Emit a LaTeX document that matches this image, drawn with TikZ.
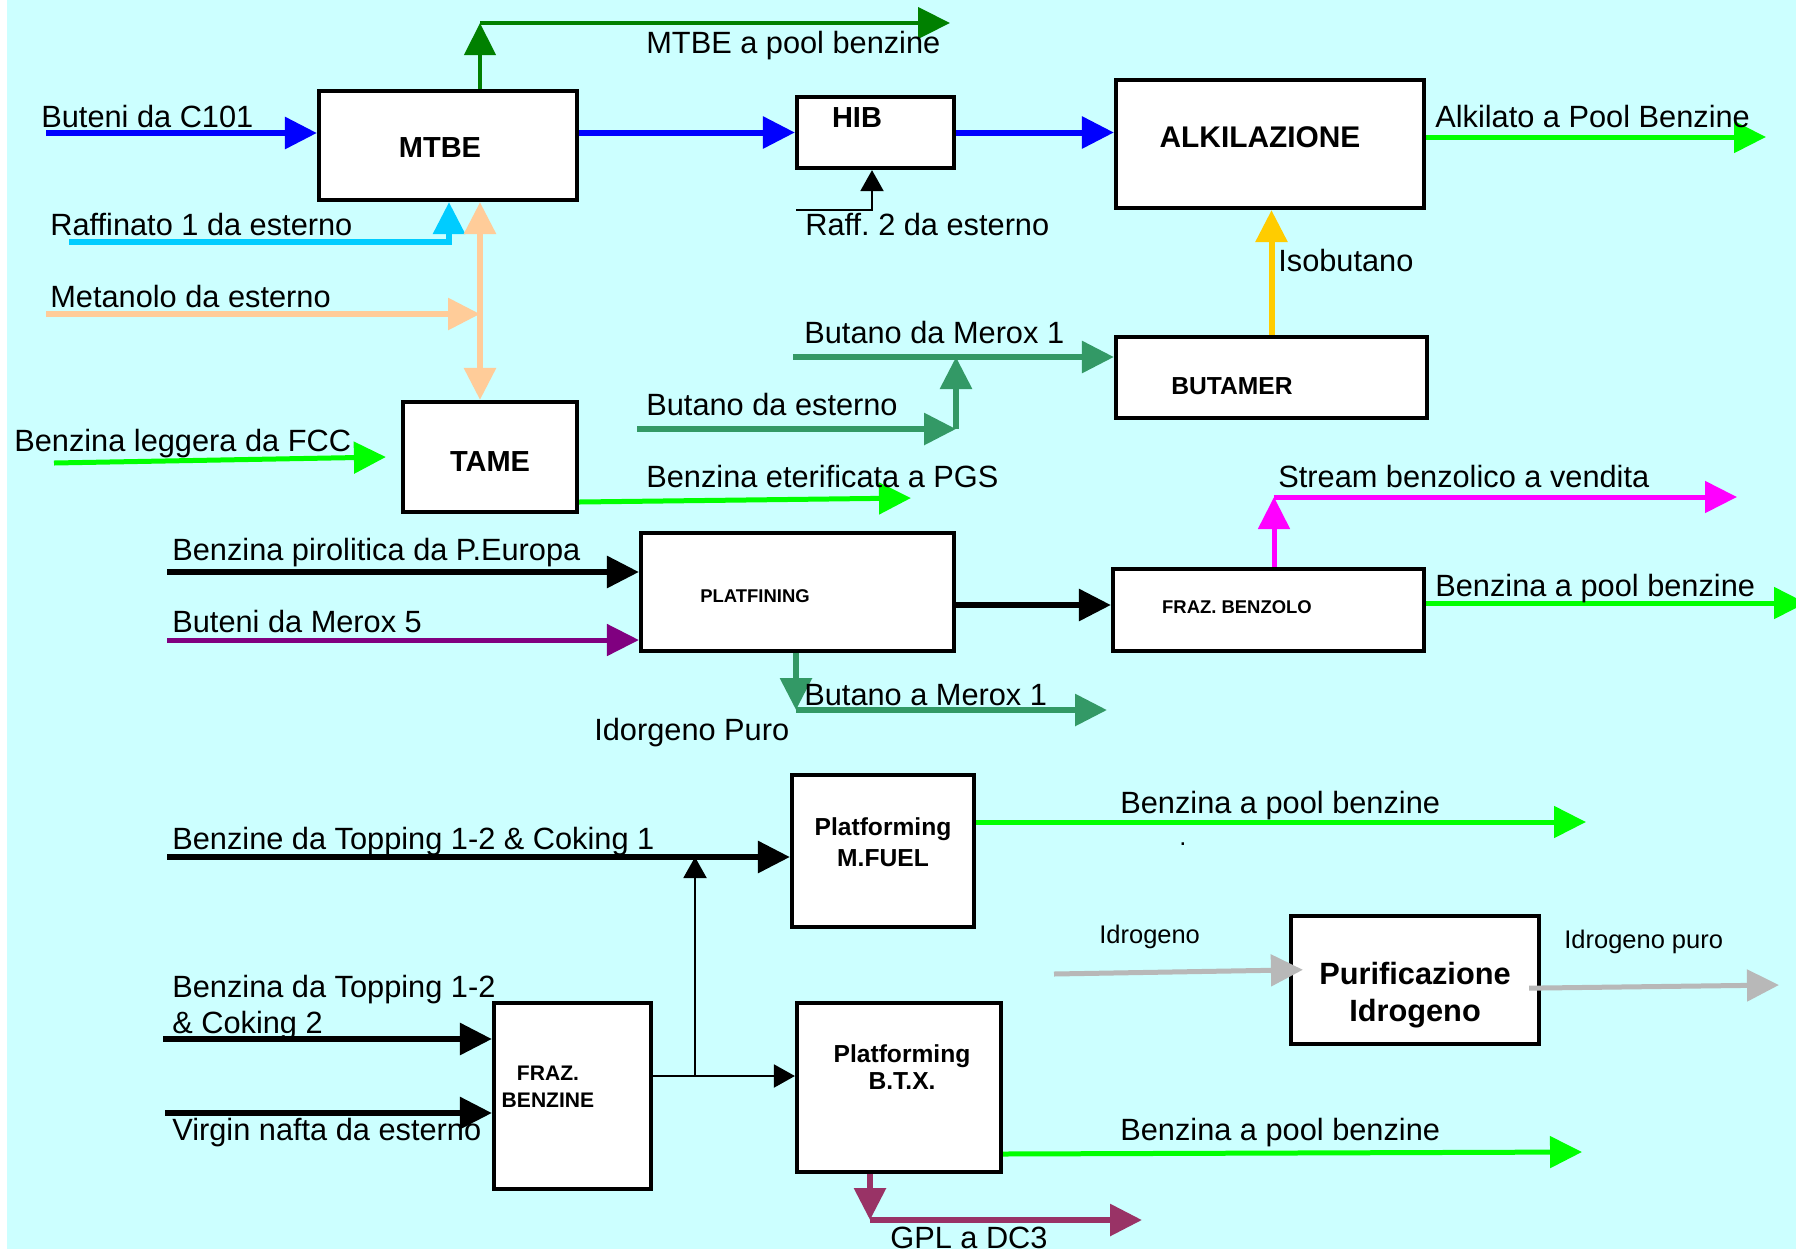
\documentclass[tikz,border=0pt]{standalone}
\usepackage{fontspec}
\setmainfont{Liberation Sans}
\usetikzlibrary{arrows.meta,positioning}
\frenchspacing

\definecolor{sfondo}{RGB}{204,255,255}
\definecolor{blu}{RGB}{0,0,255}
\definecolor{verdescuro}{RGB}{0,128,0}
\definecolor{celeste}{RGB}{0,204,255}
\definecolor{pesca}{RGB}{255,204,153}
\definecolor{verde}{RGB}{0,255,0}
\definecolor{verdemare}{RGB}{51,153,102}
\definecolor{giallo}{RGB}{255,204,0}
\definecolor{fucsia}{RGB}{255,0,255}
\definecolor{viola}{RGB}{128,0,128}
\definecolor{grigio}{RGB}{184,184,184}
\definecolor{prugna}{RGB}{153,51,102}

\tikzset{
  unit/.style={draw, fill=white, line width=2.4pt, inner sep=0pt},
  unitname/.style 2 args={font=\bfseries\fontsize{#1}{#2}\selectfont, align=center, inner sep=0pt},
  lbl/.style={anchor=base west, inner sep=0pt, font=\fontsize{17.5}{21}\selectfont},
  lblsmall/.style={anchor=base west, inner sep=0pt, font=\fontsize{14.5}{17}\selectfont},
  flow/.style={line width=0.12cm, ->},
  feed/.style={line width=0.04cm, -{Triangle[length=0.42cm,width=0.46cm]}}
}

\begin{document}
\begin{tikzpicture}[x=0.02cm, y=-0.02cm, >={Triangle[length=0.64cm,width=0.62cm]}]
  \useasboundingbox (0,0) rectangle (1796,1252);
  \fill[white] (0,0) rectangle (1796,1252);
  \fill[sfondo] (7,0) rectangle (1796,1249);

  % impianti
  \node[unit, minimum width=5.16cm, minimum height=2.18cm] (mtbe) at (448,145.5) {};
  \node[unit, minimum width=3.14cm, minimum height=1.42cm] (hib) at (875.5,132.5) {};
  \node[unit, minimum width=6.16cm, minimum height=2.56cm] (alk) at (1270,144) {};
  \node[unit, minimum width=6.22cm, minimum height=1.62cm] (butamer) at (1271.5,377.5) {};
  \node[unit, minimum width=3.48cm, minimum height=2.2cm] (tame) at (490,457) {};
  \node[unit, minimum width=6.26cm, minimum height=2.36cm] (plat) at (797.5,592) {};
  \node[unit, minimum width=6.22cm, minimum height=1.64cm] (frazbz) at (1268.5,610) {};
  \node[unit, minimum width=3.64cm, minimum height=3.04cm] (mfuel) at (883,851) {};
  \node[unit, minimum width=3.14cm, minimum height=3.72cm] (frazbe) at (572.5,1096) {};
  \node[unit, minimum width=4.08cm, minimum height=3.38cm] (btx) at (899,1087.5) {};
  \node[unit, minimum width=4.96cm, minimum height=2.56cm] (puri) at (1415,980) {};

  \node[unitname={16.5}{19}] (mtbe-n) at (440,148) {MTBE};
  \node[unitname={16.5}{19}] (hib-n) at (857,118) {HIB};
  \node[unitname={17}{20}] (alk-n) at (1260,137) {ALKILAZIONE};
  \node[unitname={14}{17}] (butamer-n) at (1232,386) {BUTAMER};
  \node[unitname={16.5}{19}] (tame-n) at (490,462) {TAME};
  \node[unitname={10.5}{12}] (plat-n) at (755,596) {PLATFINING};
  \node[unitname={10.5}{12}] (frazbz-n) at (1237,607) {FRAZ. BENZOLO};
  \node[unitname={14}{17.6}] (mfuel-n) at (883,842) {Platforming\\M.FUEL};
  \node[unitname={12}{15.4}] (frazbe-n) at (548,1087) {FRAZ.\\BENZINE};
  \node[unitname={14}{15.4}] (btx-n) at (902,1067) {Platforming\\B.T.X.};
  \node[unitname={17.5}{21}] (puri-n) at (1415,995) {Purificazione\\Idrogeno};

  % MTBE, HIB, alkilazione
  \coordinate (c101) at (46,133);
  \draw[flow, blu] (c101) -- (c101 -| mtbe.west);
  \draw[flow, blu] (mtbe.east |- hib.west) -- (hib.west);
  \draw[flow, blu] (hib.east) -- (hib.east -| alk.west);
  \coordinate (mtbeup) at (480,23);
  \coordinate (mtbepool) at (950,23);
  \draw[flow, verdescuro, line width=0.09cm] (mtbe.north -| mtbeup) -- (mtbeup);
  \draw[flow, verdescuro, line width=0.09cm] (mtbeup) -- (mtbepool);
  \coordinate (raff1) at (69,242);
  \coordinate (raff1k) at (449,242);
  \draw[flow, celeste] (raff1) -- (raff1k) -- (raff1k |- mtbe.south);
  \coordinate (metanolo) at (46,314);
  \coordinate (metk) at (480,314);
  \draw[flow, pesca] (metanolo) -- (metk);
  \draw[flow, pesca, <->] (mtbe.south -| metk) -- (tame.north -| metk);
  \coordinate (raff2) at (796,210);
  \coordinate (raff2k) at (872,210);
  \draw[feed] (raff2) -- (raff2k) -- (raff2k |- hib.south);
  \coordinate (alkpool) at (1766,137);
  \draw[flow, verde, line width=0.1cm] (alkpool -| alk.east) -- (alkpool);
  \draw[flow, giallo] (butamer.north) -- (butamer.north |- alk.south);
  \coordinate (merox1) at (793,357);
  \draw[flow, verdemare] (merox1) -- (merox1 -| butamer.west);
  \coordinate (butest) at (637,429);
  \coordinate (butk) at (956,429);
  \draw[flow, verdemare] (butest) -- (butk);
  \draw[flow, verdemare] (butk) -- (butk |- merox1);

  % TAME
  \coordinate (fcc) at (54,463);
  \draw[flow, verde, line width=0.1cm] (fcc) -- ([xshift=-0.3cm]tame.west);
  \coordinate (pgs) at (911,498);
  \draw[flow, verde, line width=0.1cm] (tame.east |- 0,502) -- (pgs);

  % platfining, frazionamento benzolo
  \coordinate (pirol) at (167,572);
  \draw[flow] (pirol) -- (pirol -| plat.west);
  \coordinate (merox5) at (167,640);
  \draw[flow, viola, line width=0.1cm] (merox5) -- (merox5 -| plat.west);
  \draw[flow] (plat.east |- 0,605) -- (frazbz.west |- 0,605);
  \coordinate (strk) at (1274,497);
  \coordinate (vendita) at (1737,497);
  \draw[flow, fucsia, line width=0.1cm] (frazbz.north -| strk) -- (strk);
  \draw[flow, fucsia, line width=0.1cm] (strk) -- (vendita);
  \coordinate (bzpool) at (1806,603);
  \draw[flow, verde, line width=0.1cm] (frazbz.east |- bzpool) -- (bzpool);
  \coordinate (butmk) at (796,710);
  \coordinate (butm) at (1107,710);
  \draw[flow, verdemare] (plat.south -| butmk) -- (butmk);
  \draw[flow, verdemare] (butmk) -- (butm);

  % platforming
  \coordinate (topc1) at (167,857);
  \draw[flow] (topc1) -- (topc1 -| mfuel.west);
  \coordinate (topc2) at (163,1039);
  \draw[flow] (topc2) -- (topc2 -| frazbe.west);
  \coordinate (virgin) at (165,1113);
  \draw[flow] (virgin) -- (virgin -| frazbe.west);
  \coordinate (split) at (695,1076);
  \draw[feed] (frazbe.east |- split) -- (split -| btx.west);
  \draw[feed] (split) -- (split |- topc1);
  \coordinate (mfpool) at (1586,822);
  \draw[flow, verde, line width=0.1cm] (mfpool -| mfuel.east) -- (mfpool);
  \coordinate (btxpool) at (1582,1152);
  \draw[flow, verde, line width=0.1cm] (btx.east |- 0,1154) -- (btxpool);
  \coordinate (gplk) at (870,1220);
  \coordinate (gpl) at (1142,1220);
  \draw[flow, prugna] (btx.south -| gplk) -- (gplk);
  \draw[flow, prugna] (gplk) -- (gpl);

  % idrogeno
  \coordinate (h2) at (1054,974);
  \draw[flow, grigio, line width=0.1cm, shorten >=-0.28cm] (h2) -- (puri.west |- 0,970);
  \coordinate (h2puro) at (1779,985);
  \draw[flow, grigio, line width=0.1cm, shorten <=-0.24cm] (puri.east |- 0,988) -- (h2puro);

  % correnti
  \node[lbl] (mtbepool-l) at (646,53) {MTBE a pool benzine};
  \node[lbl] (c101-l) at (41,127) {Buteni da C101};
  \node[lbl] (raff1-l) at (50,235) {Raffinato 1 da esterno};
  \node[lbl] (metanolo-l) at (50,307) {Metanolo da esterno};
  \node[lbl] (fcc-l) at (14,451) {Benzina leggera da FCC};
  \node[lbl] (raff2-l) at (805,235) {Raff. 2 da esterno};
  \node[lbl] (merox1-l) at (804,343) {Butano da Merox 1};
  \node[lbl] (butest-l) at (646,415) {Butano da esterno};
  \node[lbl] (alkpool-l) at (1435,127) {Alkilato a Pool Benzine};
  \node[lbl] (iso-l) at (1278,271) {Isobutano};
  \node[lbl] (pgs-l) at (646,487) {Benzina eterificata a PGS};
  \node[lbl] (vendita-l) at (1278,487) {Stream benzolico a vendita};
  \node[lbl] (pirol-l) at (172,560) {Benzina pirolitica da P.Europa};
  \node[lbl] (merox5-l) at (172,632) {Buteni da Merox 5};
  \node[lbl] (bzpool-l) at (1435,596) {Benzina a pool benzine};
  \node[lbl] (butm-l) at (804,705) {Butano a Merox 1};
  \node[lbl] (idorgeno-l) at (594,740) {Idorgeno Puro};
  \node[lbl] (topc1-l) at (172,849) {Benzine da Topping 1-2 \& Coking 1};
  \node[lbl] (mfpool-l) at (1120,813) {Benzina a pool benzine};
  \node[lblsmall] (punto) at (1179,845) {.};
  \node[lbl] (topc2-l) at (172,997) {Benzina da Topping 1-2};
  \node[below=0.72cm of topc2-l.base west, lbl] (topc2-l2) {\& Coking 2};
  \node[lbl] (virgin-l) at (172,1140) {Virgin nafta da esterno};
  \node[lbl] (btxpool-l) at (1120,1140) {Benzina a pool benzine};
  \node[lbl] (gpl-l) at (890,1248) {GPL a DC3};
  \node[lblsmall] (h2-l) at (1099,943) {Idrogeno};
  \node[lblsmall] (h2puro-l) at (1564,948) {Idrogeno puro};
\end{tikzpicture}
\end{document}
